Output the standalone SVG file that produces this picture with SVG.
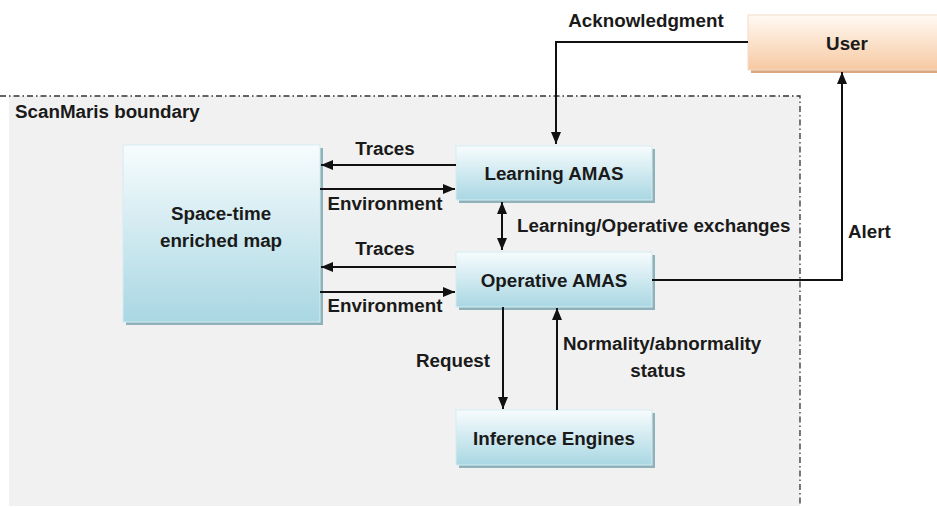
<svg xmlns="http://www.w3.org/2000/svg" width="937" height="507" viewBox="0 0 937 507">
<style>
.t{font-family:"Liberation Sans",Arial,sans-serif;font-weight:bold;font-size:18.8px;fill:#1a1a1a}
.c{text-anchor:middle}
.ln{stroke:#111;stroke-width:2;fill:none}
.bx{fill:url(#gb);stroke:#d4ecf2;stroke-width:1}
.sh{fill:#8fb2ba}
</style>
<defs>
<linearGradient id="gb" x1="0" y1="0" x2="0" y2="1">
<stop offset="0" stop-color="#f7fcfd"/>
<stop offset="1" stop-color="#a9d7e3"/>
</linearGradient>
<linearGradient id="go" x1="0" y1="0" x2="0" y2="1">
<stop offset="0" stop-color="#fffaf4"/>
<stop offset="1" stop-color="#f7c9a2"/>
</linearGradient>
<marker id="ah" viewBox="0 0 12 10" refX="12" refY="5" markerWidth="6" markerHeight="5" orient="auto-start-reverse" markerUnits="strokeWidth">
<path d="M0,0 L12,5 L0,10 z" fill="#111"/>
</marker>
</defs>
<rect x="0" y="0" width="937" height="507" fill="#ffffff"/>
<g id="boundary">
<rect x="9" y="96" width="791" height="410" fill="#f1f1f1"/>
<path d="M0,96 H800 V506" fill="none" stroke="#333" stroke-width="1.3" stroke-dasharray="6 3 1.5 3"/>
<text class="t" x="15" y="118">ScanMaris boundary</text>
</g>
<g id="user">
<rect x="751" y="18" width="190" height="55" style="fill:#d9a882"/>
<rect x="748" y="15" width="192" height="55" fill="url(#go)" stroke="#f3dcc8" stroke-width="1"/>
<text class="t c" x="847" y="50">User</text>
</g>
<g id="map">
<rect x="126" y="148" width="197" height="177" class="sh"/>
<rect x="123" y="145" width="197" height="177" class="bx"/>
<text class="t c" x="221" y="220">Space-time</text>
<text class="t c" x="221" y="247">enriched map</text>
</g>
<g id="learning">
<rect x="459" y="149" width="196" height="54" class="sh"/>
<rect x="456" y="146" width="196" height="54" class="bx"/>
<text class="t c" x="554" y="180">Learning AMAS</text>
</g>
<g id="operative">
<rect x="459" y="255" width="196" height="55" class="sh"/>
<rect x="456" y="252" width="196" height="55" class="bx"/>
<text class="t c" x="554" y="287">Operative AMAS</text>
</g>
<g id="inference">
<rect x="459" y="413" width="196" height="55" class="sh"/>
<rect x="456" y="410" width="196" height="55" class="bx"/>
<text class="t c" x="554" y="445">Inference Engines</text>
</g>
<g id="connectors">
<path class="ln" d="M748,42 H556 V144" marker-end="url(#ah)"/>
<path class="ln" d="M456,165 H321" marker-end="url(#ah)"/>
<path class="ln" d="M320,189 H455" marker-end="url(#ah)"/>
<path class="ln" d="M456,267 H321" marker-end="url(#ah)"/>
<path class="ln" d="M320,292 H455" marker-end="url(#ah)"/>
<path class="ln" d="M502,202 V250" marker-start="url(#ah)" marker-end="url(#ah)"/>
<path class="ln" d="M652,280 H842 V72" marker-end="url(#ah)"/>
<path class="ln" d="M503,307 V409" marker-end="url(#ah)"/>
<path class="ln" d="M557,410 V308" marker-end="url(#ah)"/>
<text class="t c" x="646" y="27">Acknowledgment</text>
<text class="t c" x="385" y="155">Traces</text>
<text class="t c" x="385" y="210">Environment</text>
<text class="t c" x="385" y="255">Traces</text>
<text class="t c" x="385" y="312">Environment</text>
<text class="t" x="517" y="232">Learning/Operative exchanges</text>
<text class="t" x="848" y="238">Alert</text>
<text class="t c" x="453" y="367">Request</text>
<text class="t" x="563" y="350">Normality/abnormality</text>
<text class="t c" x="658" y="377">status</text>
</g>
</svg>
